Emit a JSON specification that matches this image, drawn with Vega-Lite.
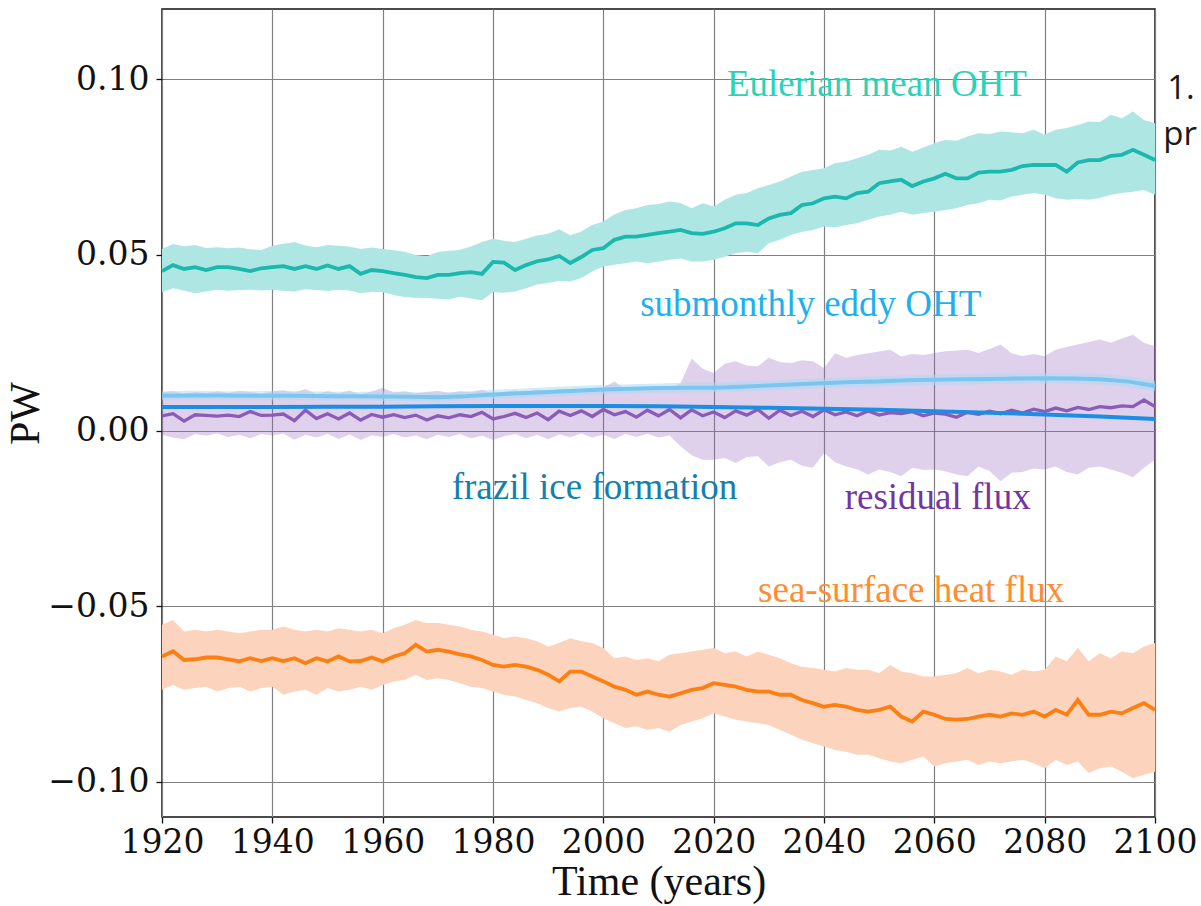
{
  "$schema": "https://vega.github.io/schema/vega-lite/v6.json",
  "width": 993,
  "height": 808,
  "autosize": {"type": "none"},
  "padding": {"left": 162, "right": 46, "top": 9, "bottom": 89},
  "background": "#ffffff",
  "datasets": {
    "euler": [
      {"year":1920,"mean":0.0454,"lo":0.0394,"hi":0.0517},{"year":1922,"mean":0.0471,"lo":0.0405,"hi":0.0531},{"year":1924,"mean":0.0460,"lo":0.0398,"hi":0.0525},{"year":1926,"mean":0.0465,"lo":0.0391,"hi":0.0528},{"year":1928,"mean":0.0457,"lo":0.0396,"hi":0.0520},{"year":1930,"mean":0.0465,"lo":0.0401,"hi":0.0522},{"year":1932,"mean":0.0465,"lo":0.0398,"hi":0.0519},{"year":1934,"mean":0.0460,"lo":0.0400,"hi":0.0521},{"year":1936,"mean":0.0454,"lo":0.0401,"hi":0.0516},{"year":1938,"mean":0.0462,"lo":0.0399,"hi":0.0514},
      {"year":1940,"mean":0.0465,"lo":0.0401,"hi":0.0526},{"year":1942,"mean":0.0468,"lo":0.0398,"hi":0.0532},{"year":1944,"mean":0.0460,"lo":0.0396,"hi":0.0537},{"year":1946,"mean":0.0468,"lo":0.0402,"hi":0.0527},{"year":1948,"mean":0.0460,"lo":0.0400,"hi":0.0522},{"year":1950,"mean":0.0470,"lo":0.0397,"hi":0.0528},{"year":1952,"mean":0.0460,"lo":0.0401,"hi":0.0526},{"year":1954,"mean":0.0468,"lo":0.0399,"hi":0.0524},{"year":1956,"mean":0.0446,"lo":0.0391,"hi":0.0517},{"year":1958,"mean":0.0457,"lo":0.0395,"hi":0.0521},
      {"year":1960,"mean":0.0454,"lo":0.0394,"hi":0.0517},{"year":1962,"mean":0.0448,"lo":0.0386,"hi":0.0513},{"year":1964,"mean":0.0443,"lo":0.0380,"hi":0.0509},{"year":1966,"mean":0.0437,"lo":0.0378,"hi":0.0500},{"year":1968,"mean":0.0434,"lo":0.0377,"hi":0.0496},{"year":1970,"mean":0.0443,"lo":0.0375,"hi":0.0508},{"year":1972,"mean":0.0443,"lo":0.0373,"hi":0.0512},{"year":1974,"mean":0.0448,"lo":0.0381,"hi":0.0515},{"year":1976,"mean":0.0451,"lo":0.0376,"hi":0.0524},{"year":1978,"mean":0.0446,"lo":0.0371,"hi":0.0537},
      {"year":1980,"mean":0.0480,"lo":0.0394,"hi":0.0546},{"year":1982,"mean":0.0478,"lo":0.0392,"hi":0.0540},{"year":1984,"mean":0.0457,"lo":0.0396,"hi":0.0537},{"year":1986,"mean":0.0471,"lo":0.0405,"hi":0.0546},{"year":1988,"mean":0.0482,"lo":0.0416,"hi":0.0555},{"year":1990,"mean":0.0487,"lo":0.0420,"hi":0.0560},{"year":1992,"mean":0.0497,"lo":0.0426,"hi":0.0573},{"year":1994,"mean":0.0477,"lo":0.0424,"hi":0.0556},{"year":1996,"mean":0.0494,"lo":0.0434,"hi":0.0567},{"year":1998,"mean":0.0514,"lo":0.0453,"hi":0.0585},
      {"year":2000,"mean":0.0519,"lo":0.0467,"hi":0.0595},{"year":2002,"mean":0.0543,"lo":0.0472,"hi":0.0615},{"year":2004,"mean":0.0552,"lo":0.0476,"hi":0.0628},{"year":2006,"mean":0.0552,"lo":0.0481,"hi":0.0633},{"year":2008,"mean":0.0557,"lo":0.0476,"hi":0.0642},{"year":2010,"mean":0.0562,"lo":0.0481,"hi":0.0645},{"year":2012,"mean":0.0566,"lo":0.0486,"hi":0.0652},{"year":2014,"mean":0.0571,"lo":0.0490,"hi":0.0648},{"year":2016,"mean":0.0562,"lo":0.0481,"hi":0.0633},{"year":2018,"mean":0.0560,"lo":0.0481,"hi":0.0647},
      {"year":2020,"mean":0.0566,"lo":0.0486,"hi":0.0638},{"year":2022,"mean":0.0576,"lo":0.0495,"hi":0.0657},{"year":2024,"mean":0.0590,"lo":0.0505,"hi":0.0671},{"year":2026,"mean":0.0590,"lo":0.0509,"hi":0.0676},{"year":2028,"mean":0.0585,"lo":0.0505,"hi":0.0690},{"year":2030,"mean":0.0604,"lo":0.0533,"hi":0.0699},{"year":2032,"mean":0.0614,"lo":0.0543,"hi":0.0709},{"year":2034,"mean":0.0619,"lo":0.0557,"hi":0.0723},{"year":2036,"mean":0.0642,"lo":0.0566,"hi":0.0737},{"year":2038,"mean":0.0647,"lo":0.0571,"hi":0.0742},
      {"year":2040,"mean":0.0661,"lo":0.0581,"hi":0.0747},{"year":2042,"mean":0.0666,"lo":0.0579,"hi":0.0761},{"year":2044,"mean":0.0661,"lo":0.0585,"hi":0.0766},{"year":2046,"mean":0.0676,"lo":0.0590,"hi":0.0775},{"year":2048,"mean":0.0680,"lo":0.0600,"hi":0.0785},{"year":2050,"mean":0.0704,"lo":0.0609,"hi":0.0799},{"year":2052,"mean":0.0709,"lo":0.0614,"hi":0.0797},{"year":2054,"mean":0.0714,"lo":0.0623,"hi":0.0808},{"year":2056,"mean":0.0696,"lo":0.0614,"hi":0.0794},{"year":2058,"mean":0.0709,"lo":0.0619,"hi":0.0806},
      {"year":2060,"mean":0.0718,"lo":0.0623,"hi":0.0818},{"year":2062,"mean":0.0731,"lo":0.0628,"hi":0.0827},{"year":2064,"mean":0.0718,"lo":0.0633,"hi":0.0825},{"year":2066,"mean":0.0718,"lo":0.0642,"hi":0.0837},{"year":2068,"mean":0.0734,"lo":0.0647,"hi":0.0846},{"year":2070,"mean":0.0737,"lo":0.0657,"hi":0.0844},{"year":2072,"mean":0.0737,"lo":0.0655,"hi":0.0851},{"year":2074,"mean":0.0742,"lo":0.0666,"hi":0.0849},{"year":2076,"mean":0.0753,"lo":0.0671,"hi":0.0846},{"year":2078,"mean":0.0756,"lo":0.0676,"hi":0.0856},
      {"year":2080,"mean":0.0756,"lo":0.0671,"hi":0.0842},{"year":2082,"mean":0.0756,"lo":0.0661,"hi":0.0856},{"year":2084,"mean":0.0737,"lo":0.0657,"hi":0.0861},{"year":2086,"mean":0.0763,"lo":0.0659,"hi":0.0870},{"year":2088,"mean":0.0770,"lo":0.0657,"hi":0.0880},{"year":2090,"mean":0.0770,"lo":0.0662,"hi":0.0878},{"year":2092,"mean":0.0782,"lo":0.0671,"hi":0.0899},{"year":2094,"mean":0.0785,"lo":0.0676,"hi":0.0889},{"year":2096,"mean":0.0799,"lo":0.0680,"hi":0.0908},{"year":2098,"mean":0.0785,"lo":0.0685,"hi":0.0884},
      {"year":2100,"mean":0.0770,"lo":0.0671,"hi":0.0875}
    ],
    "eddy": [
      {"year":1920,"mean":0.0099,"lo":0.0086,"hi":0.0112},{"year":1925,"mean":0.0100,"lo":0.0088,"hi":0.0113},{"year":1930,"mean":0.0100,"lo":0.0087,"hi":0.0112},{"year":1935,"mean":0.0099,"lo":0.0087,"hi":0.0111},{"year":1940,"mean":0.0099,"lo":0.0086,"hi":0.0113},{"year":1945,"mean":0.0099,"lo":0.0087,"hi":0.0112},{"year":1950,"mean":0.0098,"lo":0.0085,"hi":0.0111},{"year":1955,"mean":0.0098,"lo":0.0086,"hi":0.0110},{"year":1960,"mean":0.0097,"lo":0.0084,"hi":0.0112},{"year":1965,"mean":0.0096,"lo":0.0084,"hi":0.0109},
      {"year":1970,"mean":0.0095,"lo":0.0083,"hi":0.0108},{"year":1975,"mean":0.0098,"lo":0.0086,"hi":0.0111},{"year":1980,"mean":0.0103,"lo":0.0090,"hi":0.0116},{"year":1985,"mean":0.0106,"lo":0.0093,"hi":0.0119},{"year":1990,"mean":0.0110,"lo":0.0097,"hi":0.0123},{"year":1995,"mean":0.0113,"lo":0.0100,"hi":0.0127},{"year":2000,"mean":0.0117,"lo":0.0104,"hi":0.0130},{"year":2005,"mean":0.0119,"lo":0.0106,"hi":0.0132},{"year":2010,"mean":0.0121,"lo":0.0108,"hi":0.0134},{"year":2015,"mean":0.0122,"lo":0.0109,"hi":0.0136},
      {"year":2020,"mean":0.0122,"lo":0.0109,"hi":0.0136},{"year":2025,"mean":0.0125,"lo":0.0112,"hi":0.0139},{"year":2030,"mean":0.0128,"lo":0.0114,"hi":0.0142},{"year":2035,"mean":0.0132,"lo":0.0118,"hi":0.0146},{"year":2040,"mean":0.0135,"lo":0.0121,"hi":0.0149},{"year":2045,"mean":0.0138,"lo":0.0124,"hi":0.0152},{"year":2050,"mean":0.0140,"lo":0.0126,"hi":0.0155},{"year":2055,"mean":0.0143,"lo":0.0128,"hi":0.0157},{"year":2060,"mean":0.0145,"lo":0.0130,"hi":0.0159},{"year":2065,"mean":0.0146,"lo":0.0131,"hi":0.0161},
      {"year":2070,"mean":0.0147,"lo":0.0132,"hi":0.0162},{"year":2075,"mean":0.0148,"lo":0.0133,"hi":0.0163},{"year":2080,"mean":0.0149,"lo":0.0134,"hi":0.0164},{"year":2085,"mean":0.0148,"lo":0.0133,"hi":0.0163},{"year":2090,"mean":0.0146,"lo":0.0131,"hi":0.0161},{"year":2095,"mean":0.0140,"lo":0.0125,"hi":0.0155},{"year":2100,"mean":0.0127,"lo":0.0112,"hi":0.0142}
    ],
    "frazil": [
      {"year":1920,"mean":0.0067},{"year":1930,"mean":0.0067},{"year":1940,"mean":0.0067},{"year":1950,"mean":0.0068},{"year":1960,"mean":0.0068},{"year":1970,"mean":0.0069},{"year":1980,"mean":0.0070},{"year":1990,"mean":0.0070},{"year":2000,"mean":0.0070},{"year":2010,"mean":0.0069},
      {"year":2020,"mean":0.0067},{"year":2030,"mean":0.0065},{"year":2040,"mean":0.0062},{"year":2050,"mean":0.0059},{"year":2060,"mean":0.0055},{"year":2070,"mean":0.0051},{"year":2080,"mean":0.0046},{"year":2090,"mean":0.0040},{"year":2100,"mean":0.0033}
    ],
    "resid": [
      {"year":1920,"mean":0.0042,"lo":-0.0012,"hi":0.0108},{"year":1922,"mean":0.0048,"lo":-0.0020,"hi":0.0112},{"year":1924,"mean":0.0027,"lo":-0.0025,"hi":0.0104},{"year":1926,"mean":0.0045,"lo":-0.0010,"hi":0.0110},{"year":1928,"mean":0.0043,"lo":-0.0015,"hi":0.0106},{"year":1930,"mean":0.0041,"lo":-0.0008,"hi":0.0112},{"year":1932,"mean":0.0044,"lo":-0.0018,"hi":0.0107},{"year":1934,"mean":0.0040,"lo":-0.0012,"hi":0.0113},{"year":1936,"mean":0.0054,"lo":-0.0022,"hi":0.0110},{"year":1938,"mean":0.0043,"lo":-0.0010,"hi":0.0105},
      {"year":1940,"mean":0.0044,"lo":-0.0014,"hi":0.0111},{"year":1942,"mean":0.0047,"lo":-0.0008,"hi":0.0115},{"year":1944,"mean":0.0028,"lo":-0.0026,"hi":0.0108},{"year":1946,"mean":0.0058,"lo":-0.0012,"hi":0.0118},{"year":1948,"mean":0.0034,"lo":-0.0020,"hi":0.0104},{"year":1950,"mean":0.0048,"lo":-0.0009,"hi":0.0112},{"year":1952,"mean":0.0033,"lo":-0.0024,"hi":0.0106},{"year":1954,"mean":0.0050,"lo":-0.0011,"hi":0.0114},{"year":1956,"mean":0.0030,"lo":-0.0027,"hi":0.0103},{"year":1958,"mean":0.0046,"lo":-0.0013,"hi":0.0111},
      {"year":1960,"mean":0.0038,"lo":-0.0018,"hi":0.0122},{"year":1962,"mean":0.0045,"lo":-0.0010,"hi":0.0108},{"year":1964,"mean":0.0037,"lo":-0.0020,"hi":0.0112},{"year":1966,"mean":0.0044,"lo":-0.0014,"hi":0.0106},{"year":1968,"mean":0.0030,"lo":-0.0025,"hi":0.0110},{"year":1970,"mean":0.0042,"lo":-0.0012,"hi":0.0113},{"year":1972,"mean":0.0036,"lo":-0.0018,"hi":0.0107},{"year":1974,"mean":0.0045,"lo":-0.0010,"hi":0.0112},{"year":1976,"mean":0.0040,"lo":-0.0022,"hi":0.0109},{"year":1978,"mean":0.0052,"lo":-0.0015,"hi":0.0116},
      {"year":1980,"mean":0.0033,"lo":-0.0027,"hi":0.0105},{"year":1982,"mean":0.0040,"lo":-0.0016,"hi":0.0110},{"year":1984,"mean":0.0049,"lo":-0.0010,"hi":0.0115},{"year":1986,"mean":0.0037,"lo":-0.0022,"hi":0.0108},{"year":1988,"mean":0.0050,"lo":-0.0012,"hi":0.0117},{"year":1990,"mean":0.0031,"lo":-0.0025,"hi":0.0106},{"year":1992,"mean":0.0055,"lo":-0.0011,"hi":0.0118},{"year":1994,"mean":0.0043,"lo":-0.0019,"hi":0.0112},{"year":1996,"mean":0.0056,"lo":-0.0008,"hi":0.0120},{"year":1998,"mean":0.0040,"lo":-0.0020,"hi":0.0110},
      {"year":2000,"mean":0.0060,"lo":-0.0012,"hi":0.0122},{"year":2002,"mean":0.0045,"lo":-0.0024,"hi":0.0140},{"year":2004,"mean":0.0054,"lo":-0.0010,"hi":0.0118},{"year":2006,"mean":0.0038,"lo":-0.0018,"hi":0.0125},{"year":2008,"mean":0.0058,"lo":-0.0009,"hi":0.0116},{"year":2010,"mean":0.0042,"lo":-0.0020,"hi":0.0124},{"year":2012,"mean":0.0060,"lo":-0.0014,"hi":0.0119},{"year":2014,"mean":0.0036,"lo":-0.0045,"hi":0.0135},{"year":2016,"mean":0.0059,"lo":-0.0070,"hi":0.0205},{"year":2018,"mean":0.0042,"lo":-0.0083,"hi":0.0176},
      {"year":2020,"mean":0.0053,"lo":-0.0083,"hi":0.0164},{"year":2022,"mean":0.0037,"lo":-0.0078,"hi":0.0190},{"year":2024,"mean":0.0056,"lo":-0.0092,"hi":0.0197},{"year":2026,"mean":0.0044,"lo":-0.0075,"hi":0.0185},{"year":2028,"mean":0.0060,"lo":-0.0073,"hi":0.0183},{"year":2030,"mean":0.0035,"lo":-0.0102,"hi":0.0207},{"year":2032,"mean":0.0058,"lo":-0.0090,"hi":0.0195},{"year":2034,"mean":0.0043,"lo":-0.0083,"hi":0.0192},{"year":2036,"mean":0.0055,"lo":-0.0100,"hi":0.0200},{"year":2038,"mean":0.0040,"lo":-0.0106,"hi":0.0197},
      {"year":2040,"mean":0.0059,"lo":-0.0064,"hi":0.0178},{"year":2042,"mean":0.0045,"lo":-0.0090,"hi":0.0220},{"year":2044,"mean":0.0053,"lo":-0.0102,"hi":0.0207},{"year":2046,"mean":0.0042,"lo":-0.0110,"hi":0.0215},{"year":2048,"mean":0.0056,"lo":-0.0125,"hi":0.0220},{"year":2050,"mean":0.0044,"lo":-0.0111,"hi":0.0225},{"year":2052,"mean":0.0051,"lo":-0.0118,"hi":0.0230},{"year":2054,"mean":0.0048,"lo":-0.0130,"hi":0.0211},{"year":2056,"mean":0.0054,"lo":-0.0106,"hi":0.0218},{"year":2058,"mean":0.0042,"lo":-0.0112,"hi":0.0215},
      {"year":2060,"mean":0.0050,"lo":-0.0111,"hi":0.0221},{"year":2062,"mean":0.0047,"lo":-0.0116,"hi":0.0226},{"year":2064,"mean":0.0038,"lo":-0.0125,"hi":0.0228},{"year":2066,"mean":0.0052,"lo":-0.0130,"hi":0.0230},{"year":2068,"mean":0.0046,"lo":-0.0102,"hi":0.0221},{"year":2070,"mean":0.0055,"lo":-0.0115,"hi":0.0232},{"year":2072,"mean":0.0048,"lo":-0.0144,"hi":0.0245},{"year":2074,"mean":0.0058,"lo":-0.0120,"hi":0.0220},{"year":2076,"mean":0.0050,"lo":-0.0118,"hi":0.0212},{"year":2078,"mean":0.0061,"lo":-0.0108,"hi":0.0218},
      {"year":2080,"mean":0.0054,"lo":-0.0111,"hi":0.0212},{"year":2082,"mean":0.0064,"lo":-0.0102,"hi":0.0230},{"year":2084,"mean":0.0056,"lo":-0.0118,"hi":0.0238},{"year":2086,"mean":0.0066,"lo":-0.0125,"hi":0.0245},{"year":2088,"mean":0.0060,"lo":-0.0106,"hi":0.0252},{"year":2090,"mean":0.0068,"lo":-0.0102,"hi":0.0259},{"year":2092,"mean":0.0065,"lo":-0.0111,"hi":0.0250},{"year":2094,"mean":0.0070,"lo":-0.0120,"hi":0.0262},{"year":2096,"mean":0.0068,"lo":-0.0133,"hi":0.0273},{"year":2098,"mean":0.0087,"lo":-0.0106,"hi":0.0250},
      {"year":2100,"mean":0.0068,"lo":-0.0083,"hi":0.0240}
    ],
    "surf": [
      {"year":1920,"mean":-0.0643,"lo":-0.0738,"hi":-0.0553},{"year":1922,"mean":-0.0628,"lo":-0.0724,"hi":-0.0539},{"year":1924,"mean":-0.0653,"lo":-0.0738,"hi":-0.0572},{"year":1926,"mean":-0.0651,"lo":-0.0733,"hi":-0.0567},{"year":1928,"mean":-0.0646,"lo":-0.0729,"hi":-0.0572},{"year":1930,"mean":-0.0646,"lo":-0.0743,"hi":-0.0567},{"year":1932,"mean":-0.0651,"lo":-0.0733,"hi":-0.0572},{"year":1934,"mean":-0.0657,"lo":-0.0729,"hi":-0.0577},{"year":1936,"mean":-0.0648,"lo":-0.0743,"hi":-0.0572},{"year":1938,"mean":-0.0656,"lo":-0.0733,"hi":-0.0567},
      {"year":1940,"mean":-0.0648,"lo":-0.0729,"hi":-0.0567},{"year":1942,"mean":-0.0656,"lo":-0.0752,"hi":-0.0558},{"year":1944,"mean":-0.0648,"lo":-0.0743,"hi":-0.0567},{"year":1946,"mean":-0.0662,"lo":-0.0738,"hi":-0.0572},{"year":1948,"mean":-0.0648,"lo":-0.0752,"hi":-0.0567},{"year":1950,"mean":-0.0657,"lo":-0.0733,"hi":-0.0572},{"year":1952,"mean":-0.0643,"lo":-0.0743,"hi":-0.0563},{"year":1954,"mean":-0.0657,"lo":-0.0738,"hi":-0.0567},{"year":1956,"mean":-0.0656,"lo":-0.0729,"hi":-0.0572},{"year":1958,"mean":-0.0646,"lo":-0.0738,"hi":-0.0567},
      {"year":1960,"mean":-0.0657,"lo":-0.0724,"hi":-0.0577},{"year":1962,"mean":-0.0643,"lo":-0.0714,"hi":-0.0563},{"year":1964,"mean":-0.0634,"lo":-0.0710,"hi":-0.0553},{"year":1966,"mean":-0.0610,"lo":-0.0695,"hi":-0.0539},{"year":1968,"mean":-0.0629,"lo":-0.0710,"hi":-0.0548},{"year":1970,"mean":-0.0624,"lo":-0.0705,"hi":-0.0548},{"year":1972,"mean":-0.0629,"lo":-0.0710,"hi":-0.0553},{"year":1974,"mean":-0.0637,"lo":-0.0719,"hi":-0.0558},{"year":1976,"mean":-0.0643,"lo":-0.0729,"hi":-0.0567},{"year":1978,"mean":-0.0653,"lo":-0.0733,"hi":-0.0572},
      {"year":1980,"mean":-0.0667,"lo":-0.0743,"hi":-0.0581},{"year":1982,"mean":-0.0672,"lo":-0.0752,"hi":-0.0591},{"year":1984,"mean":-0.0667,"lo":-0.0757,"hi":-0.0586},{"year":1986,"mean":-0.0672,"lo":-0.0767,"hi":-0.0591},{"year":1988,"mean":-0.0681,"lo":-0.0776,"hi":-0.0600},{"year":1990,"mean":-0.0695,"lo":-0.0790,"hi":-0.0615},{"year":1992,"mean":-0.0714,"lo":-0.0800,"hi":-0.0605},{"year":1994,"mean":-0.0686,"lo":-0.0790,"hi":-0.0591},{"year":1996,"mean":-0.0686,"lo":-0.0786,"hi":-0.0600},{"year":1998,"mean":-0.0700,"lo":-0.0800,"hi":-0.0605},
      {"year":2000,"mean":-0.0714,"lo":-0.0819,"hi":-0.0619},{"year":2002,"mean":-0.0729,"lo":-0.0833,"hi":-0.0648},{"year":2004,"mean":-0.0738,"lo":-0.0847,"hi":-0.0643},{"year":2006,"mean":-0.0752,"lo":-0.0842,"hi":-0.0653},{"year":2008,"mean":-0.0743,"lo":-0.0852,"hi":-0.0648},{"year":2010,"mean":-0.0752,"lo":-0.0847,"hi":-0.0657},{"year":2012,"mean":-0.0757,"lo":-0.0857,"hi":-0.0638},{"year":2014,"mean":-0.0748,"lo":-0.0838,"hi":-0.0634},{"year":2016,"mean":-0.0738,"lo":-0.0828,"hi":-0.0629},{"year":2018,"mean":-0.0733,"lo":-0.0819,"hi":-0.0624},
      {"year":2020,"mean":-0.0719,"lo":-0.0805,"hi":-0.0619},{"year":2022,"mean":-0.0724,"lo":-0.0814,"hi":-0.0634},{"year":2024,"mean":-0.0729,"lo":-0.0823,"hi":-0.0629},{"year":2026,"mean":-0.0738,"lo":-0.0828,"hi":-0.0643},{"year":2028,"mean":-0.0743,"lo":-0.0833,"hi":-0.0629},{"year":2030,"mean":-0.0743,"lo":-0.0838,"hi":-0.0638},{"year":2032,"mean":-0.0752,"lo":-0.0852,"hi":-0.0648},{"year":2034,"mean":-0.0752,"lo":-0.0866,"hi":-0.0662},{"year":2036,"mean":-0.0767,"lo":-0.0880,"hi":-0.0672},{"year":2038,"mean":-0.0776,"lo":-0.0890,"hi":-0.0676},
      {"year":2040,"mean":-0.0786,"lo":-0.0899,"hi":-0.0681},{"year":2042,"mean":-0.0781,"lo":-0.0909,"hi":-0.0686},{"year":2044,"mean":-0.0786,"lo":-0.0914,"hi":-0.0676},{"year":2046,"mean":-0.0795,"lo":-0.0923,"hi":-0.0681},{"year":2048,"mean":-0.0800,"lo":-0.0923,"hi":-0.0681},{"year":2050,"mean":-0.0795,"lo":-0.0933,"hi":-0.0691},{"year":2052,"mean":-0.0786,"lo":-0.0942,"hi":-0.0667},{"year":2054,"mean":-0.0814,"lo":-0.0947,"hi":-0.0686},{"year":2056,"mean":-0.0828,"lo":-0.0937,"hi":-0.0691},{"year":2058,"mean":-0.0800,"lo":-0.0928,"hi":-0.0700},
      {"year":2060,"mean":-0.0809,"lo":-0.0956,"hi":-0.0700},{"year":2062,"mean":-0.0821,"lo":-0.0947,"hi":-0.0695},{"year":2064,"mean":-0.0823,"lo":-0.0942,"hi":-0.0691},{"year":2066,"mean":-0.0821,"lo":-0.0937,"hi":-0.0676},{"year":2068,"mean":-0.0814,"lo":-0.0952,"hi":-0.0691},{"year":2070,"mean":-0.0809,"lo":-0.0942,"hi":-0.0681},{"year":2072,"mean":-0.0814,"lo":-0.0947,"hi":-0.0686},{"year":2074,"mean":-0.0805,"lo":-0.0942,"hi":-0.0695},{"year":2076,"mean":-0.0809,"lo":-0.0937,"hi":-0.0681},{"year":2078,"mean":-0.0800,"lo":-0.0947,"hi":-0.0686},
      {"year":2080,"mean":-0.0814,"lo":-0.0961,"hi":-0.0681},{"year":2082,"mean":-0.0795,"lo":-0.0937,"hi":-0.0643},{"year":2084,"mean":-0.0809,"lo":-0.0952,"hi":-0.0657},{"year":2086,"mean":-0.0767,"lo":-0.0942,"hi":-0.0619},{"year":2088,"mean":-0.0809,"lo":-0.0975,"hi":-0.0657},{"year":2090,"mean":-0.0809,"lo":-0.0961,"hi":-0.0634},{"year":2092,"mean":-0.0800,"lo":-0.0956,"hi":-0.0648},{"year":2094,"mean":-0.0805,"lo":-0.0971,"hi":-0.0629},{"year":2096,"mean":-0.0790,"lo":-0.0990,"hi":-0.0634},{"year":2098,"mean":-0.0776,"lo":-0.0980,"hi":-0.0615},
      {"year":2100,"mean":-0.0795,"lo":-0.0971,"hi":-0.0605}
    ],
    "labels": [
      {"series":"Eulerian mean OHT","year":2049.6,"mean":0.0952},
      {"series":"submonthly eddy OHT","year":2037.6,"mean":0.0327},
      {"series":"frazil ice formation","year":1998.4,"mean":-0.0195},
      {"series":"residual flux","year":2060.6,"mean":-0.0223},
      {"series":"sea-surface heat flux","year":2055.8,"mean":-0.0488}
    ],
    "side": [
      {"note":"1.","year":2102.2,"mean":0.0944},
      {"note":"pr","year":2101.5,"mean":0.0814}
    ]
  },
  "encoding": {
    "x": {
      "field": "year", "type": "quantitative", "title": "Time (years)",
      "scale": {"domain": [1920, 2100], "nice": false, "zero": false},
      "axis": {"values": [1920,1940,1960,1980,2000,2020,2040,2060,2080,2100], "format": "d", "labelFlush": false, "labelPadding": 3, "titlePadding": 2}
    }
  },
  "layer": [
    {
      "data": {"name": "euler"},
      "mark": {"type": "area", "color": "#aee6e3", "opacity": 1},
      "encoding": {
        "y": {"field": "lo", "type": "quantitative", "title": "PW",
              "scale": {"domain": [-0.11, 0.12], "nice": false, "zero": false},
              "axis": {"values": [-0.1, -0.05, 0, 0.05, 0.1], "labelExpr": "replace(format(datum.value, '.2f'), '-', '\u2212')", "labelFlush": false, "labelPadding": 7, "titlePadding": 0}},
        "y2": {"field": "hi"}
      }
    },
    {
      "data": {"name": "euler"},
      "mark": {"type": "line", "color": "#1bb8ae", "strokeWidth": 3.8},
      "encoding": {"y": {"field": "mean", "type": "quantitative", "title": "PW"}}
    },
    {
      "data": {"name": "resid"},
      "mark": {"type": "area", "color": "#9467bd", "opacity": 0.3},
      "encoding": {"y": {"field": "lo", "type": "quantitative", "title": "PW"}, "y2": {"field": "hi"}}
    },
    {
      "data": {"name": "eddy"},
      "mark": {"type": "area", "color": "#a9daf6", "opacity": 0.55},
      "encoding": {"y": {"field": "lo", "type": "quantitative", "title": "PW"}, "y2": {"field": "hi"}}
    },
    {
      "data": {"name": "eddy"},
      "mark": {"type": "line", "color": "#7cc5ef", "strokeWidth": 4},
      "encoding": {"y": {"field": "mean", "type": "quantitative", "title": "PW"}}
    },
    {
      "data": {"name": "resid"},
      "mark": {"type": "line", "color": "#8b5bb8", "strokeWidth": 3.3},
      "encoding": {"y": {"field": "mean", "type": "quantitative", "title": "PW"}}
    },
    {
      "data": {"name": "frazil"},
      "mark": {"type": "line", "color": "#1b8de3", "strokeWidth": 4},
      "encoding": {"y": {"field": "mean", "type": "quantitative", "title": "PW"}}
    },
    {
      "data": {"name": "surf"},
      "mark": {"type": "area", "color": "#fcd3bd", "opacity": 1},
      "encoding": {"y": {"field": "lo", "type": "quantitative", "title": "PW"}, "y2": {"field": "hi"}}
    },
    {
      "data": {"name": "surf"},
      "mark": {"type": "line", "color": "#fb7f12", "strokeWidth": 3.8},
      "encoding": {"y": {"field": "mean", "type": "quantitative", "title": "PW"}}
    },
    {
      "data": {"name": "labels"},
      "mark": {"type": "text", "font": "Liberation Serif", "fontSize": 37, "align": "center", "baseline": "alphabetic"},
      "encoding": {
        "y": {"field": "mean", "type": "quantitative", "title": "PW"},
        "text": {"field": "series"},
        "color": {
          "field": "series", "type": "nominal", "legend": null,
          "scale": {
            "domain": ["Eulerian mean OHT", "submonthly eddy OHT", "frazil ice formation", "residual flux", "sea-surface heat flux"],
            "range": ["#2ad2b8", "#1cb0ee", "#137fae", "#7434a4", "#ff8c2e"]
          }
        }
      }
    },
    {
      "data": {"name": "side"},
      "mark": {"type": "text", "font": "Open Sans", "fontSize": 33, "align": "left", "baseline": "alphabetic", "color": "#1a1a1a", "clip": false},
      "encoding": {
        "y": {"field": "mean", "type": "quantitative", "title": "PW"},
        "text": {"field": "note"}
      }
    }
  ],
  "config": {
    "view": {"stroke": "#111111", "strokeWidth": 1.5},
    "axis": {
      "domain": false,
      "grid": true,
      "gridColor": "#808080",
      "gridWidth": 1.2,
      "gridOpacity": 1,
      "ticks": true,
      "tickColor": "#111111",
      "tickSize": 6,
      "tickWidth": 1.3,
      "labelFont": "DejaVu Serif",
      "labelFontSize": 33,
      "labelColor": "#111111",
      "labelOverlap": false,
      "titleFont": "Liberation Serif",
      "titleFontSize": 42,
      "titleFontWeight": "normal",
      "titleColor": "#111111"
    }
  }
}
